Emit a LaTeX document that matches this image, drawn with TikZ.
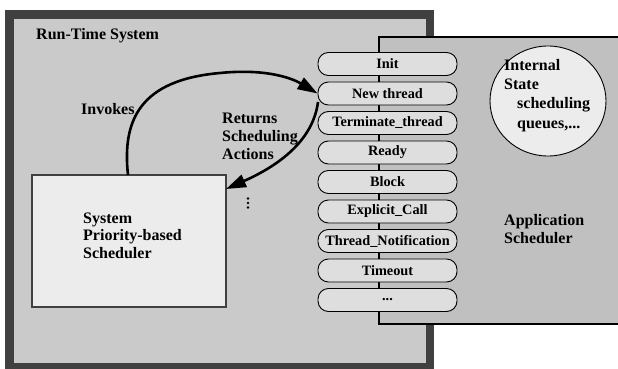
\documentclass[tikz,border=0pt]{standalone}
\usepackage{fontspec}
\setmainfont{Liberation Serif}
\usetikzlibrary{arrows.meta,shapes.geometric}
\definecolor{framedark}{RGB}{64,64,64}
\definecolor{rtsgray}{RGB}{202,202,202}
\definecolor{appgray}{RGB}{192,192,192}
\definecolor{pillgray}{RGB}{222,222,222}
\definecolor{boxlight}{RGB}{236,236,236}
\begin{document}
\begin{tikzpicture}[x=1pt,y=-1pt,
  pill/.style={draw=black,line width=0.9pt,fill=pillgray,rounded corners=10.5pt,
    minimum width=139pt,minimum height=23pt,inner sep=0pt,
    font=\fontsize{14.3}{16}\selectfont\bfseries},
  lbl/.style={inner sep=0pt,anchor=west,align=left,
    font=\fontsize{16}{18}\selectfont\bfseries},
  flow/.style={line width=2.6pt,-{Triangle[length=20pt,width=13pt]}},
  dotmark/.style={fill=black}]
\useasboundingbox (0,0) rectangle (618,369);
% run-time system frame
\fill[framedark] (5,10) rectangle (434,372);
\fill[rtsgray] (14,19) rectangle (426,363);
\node[lbl] (rts) at (36,36) {Run-Time System};
% application scheduler box
\draw[line width=1.5pt,fill=appgray] (625,37) -- (379,37) -- (379,324) -- (625,324);
\node[lbl] (appl) at (504,229) {Application\\Scheduler};
% internal state
\node[draw=black,line width=0.9pt,fill=boxlight,ellipse,minimum width=116pt,minimum height=110pt,inner sep=0pt] (state) at (548,101) {};
\node[lbl,font=\fontsize{16}{19.2}\selectfont\bfseries] (statetxt) at (504,95.5) {Internal\\State\\\hspace*{13pt}scheduling\\\hspace*{13pt}queues,...};
% system scheduler
\node[draw=framedark,line width=2.5pt,fill=boxlight,minimum width=194pt,minimum height=132pt,inner sep=0pt] (sys) at (129,241) {};
\node[lbl,font=\fontsize{16}{17.5}\selectfont\bfseries] (systxt) at (83,235.5) {System\\Priority-based\\Scheduler};
% pills
\node[pill] (p1) at (387.5,64) {Init};
\node[pill] (p2) at (387.5,93.5) {New thread};
\node[pill] (p3) at (387.5,123) {Terminate\_thread};
\node[pill] (p4) at (387.5,152.5) {Ready};
\node[pill] (p5) at (387.5,182) {Block};
\node[pill] (p6) at (387.5,211.5) {Explicit\_Call};
\node[pill] (p7) at (387.5,241) {Thread\_Notification};
\node[pill] (p8) at (387.5,270.5) {Timeout};
\node[pill] (p9) at (387.5,300) {...};
% arrows
\coordinate (invstart) at (128,175);
\draw[flow] (invstart) .. controls (122,120) and (140,80) .. (220,73)
  .. controls (270,68) and (295,80) .. (p2.west);
\node[lbl] (invokes) at (81,109) {Invokes};
\coordinate (retstart) at (318,102);
\coordinate (retend) at (226,189);
\draw[flow] (retstart) .. controls (313,140) and (280,165) .. (retend);
\node[lbl] (returns) at (222,136) {Returns\\Scheduling\\Actions};
% vertical ellipsis
\fill[dotmark] (248,198.5) circle (1.4pt);
\fill[dotmark] (248,203) circle (1.4pt);
\fill[dotmark] (248,207.5) circle (1.4pt);
\end{tikzpicture}
\end{document}
